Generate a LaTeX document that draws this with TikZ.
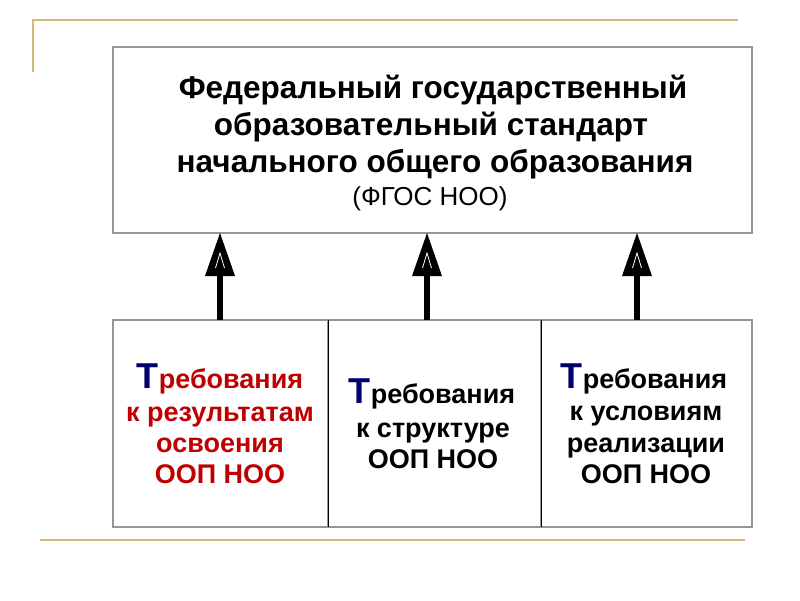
\documentclass[tikz,border=0pt]{standalone}
\usepackage{fontspec}
\setmainfont{Liberation Sans}
\definecolor{gold}{RGB}{212,185,120}
\definecolor{boxgray}{RGB}{150,150,150}
\definecolor{darkred}{RGB}{192,0,0}
\definecolor{navy}{RGB}{0,0,110}
\newcommand{\bigT}{{\color{navy}\fontsize{36}{36}\selectfont Т}}
\begin{document}
\begin{tikzpicture}[x=1pt,y=-1pt,
  box/.style={draw=boxgray,line width=1.3pt,fill=white},
  goldline/.style={draw=gold,line width=2.6pt},
  shaft/.style={line width=6pt,black},
  bl/.style={font=\bfseries\fontsize{27}{32}\selectfont,anchor=base,inner sep=0pt},
  tl/.style={font=\bfseries\fontsize{31.5}{37}\selectfont,anchor=base,inner sep=0pt}]
\useasboundingbox (0,0) rectangle (800,600);
% gold frame lines
\draw[goldline] (33,72) -- (33,20) -- (738,20);
\draw[goldline] (40,540) -- (745,540);
% top box
\draw[box] (113,47) rectangle (752,233);
\node[tl] (top1) at (433,98) {Федеральный государственный};
\node[tl] (top2) at (431,135) {образовательный стандарт};
\node[tl] (top3) at (435,172) {начального общего образования};
\node[font=\fontsize{26}{30}\selectfont,anchor=base,inner sep=0pt] (abbr) at (430,205) {(ФГОС НОО)};
% bottom boxes
\draw[box] (113,320) rectangle (328,527);
\draw[box] (328,320) rectangle (541,527);
\draw[box] (541,320) rectangle (752,527);
\draw[black,line width=1pt] (328,320) -- (328,527);
\draw[black,line width=1pt] (541,320) -- (541,527);
\coordinate (b1) at (220,320);
\coordinate (b2) at (427,320);
\coordinate (b3) at (637,320);
\coordinate (t1) at (220,233);
\coordinate (t2) at (427,233);
\coordinate (t3) at (637,233);
% box 1
\begin{scope}[every node/.style={bl,text=darkred}]
\node (a1) at (220,388) {\bigT ребования};
\node (a2) at (220,421) {к результатам};
\node (a3) at (220,452) {освоения};
\node (a4) at (220,483) {ООП НОО};
\end{scope}
% box 2
\begin{scope}[every node/.style={bl}]
\node (c1) at (432,403) {\bigT ребования};
\node (c2) at (433,437) {к структуре};
\node (c3) at (433,468) {ООП НОО};
% box 3
\node (d1) at (644,388) {\bigT ребования};
\node (d2) at (646,420) {к условиям};
\node (d3) at (646,452) {реализации};
\node (d4) at (646,483) {ООП НОО};
\end{scope}
% arrows
\foreach \i in {1,2,3}{
  \draw[shaft] (b\i) -- ([yshift=-40pt]t\i);
  \fill[black] (t\i) -- ++(-15,43) -- ++(30,0) -- cycle;
  \draw[white,line width=0.8pt] ([xshift=-4.5pt,yshift=-35pt]t\i) -- ([yshift=-20pt]t\i) -- ([xshift=4.5pt,yshift=-35pt]t\i);
}
\end{tikzpicture}
\end{document}
